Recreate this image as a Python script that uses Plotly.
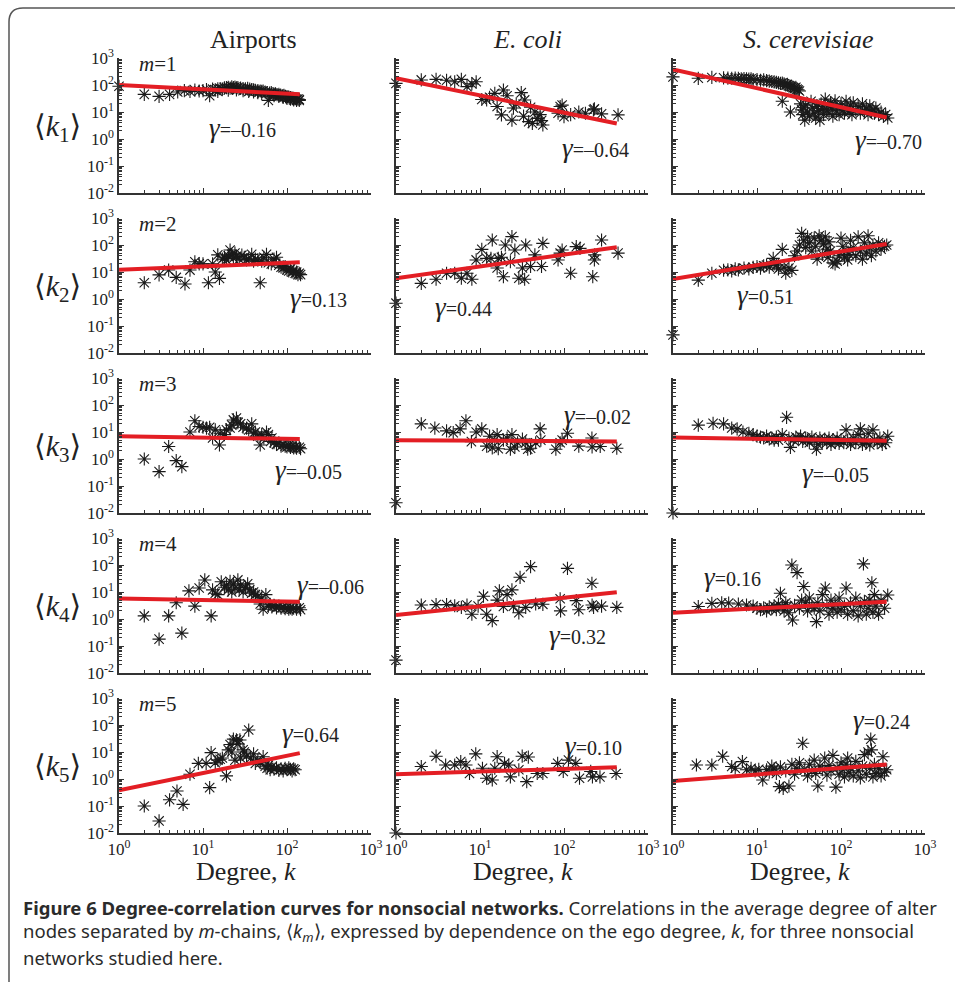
import plotly.graph_objects as go

W, H = 955, 982

# ---------------- data ----------------
networks = ["Airports", "E. coli", "S. cerevisiae"]
network_titles = ["Airports", "<i>E. coli</i>", "<i>S. cerevisiae</i>"]
chain_lengths = [1, 2, 3, 4, 5]

x_tick_vals = [1, 10, 100, 1000]
x_tick_text = ["10<sup>0</sup>", "10<sup>1</sup>", "10<sup>2</sup>", "10<sup>3</sup>"]
y_tick_vals = [0.01, 0.1, 1, 10, 100, 1000]
y_tick_text = ["10<sup>-2</sup>", "10<sup>-1</sup>", "10<sup>0</sup>", "10<sup>1</sup>",
               "10<sup>2</sup>", "10<sup>3</sup>"]

# Airports
air_m1_k = [1, 2, 3, 4, 5, 6, 7, 8, 9, 10, 11, 12, 13, 14, 15, 15, 16, 17, 18, 19, 20, 20, 21, 22, 23, 24,
            25, 25, 26, 28, 30, 30, 32, 34, 35, 36, 38, 40, 40, 42, 45, 45, 48, 50, 50, 52, 55, 58, 60, 62,
            65, 68, 70, 70, 73, 76, 80, 80, 84, 88, 90, 92, 96, 100, 100, 105, 110, 110, 115, 120, 120,
            125, 130, 130, 135, 140, 140]
air_m1_v = [90, 45, 38, 45, 55, 62, 58, 65, 60, 62, 68, 40, 70, 66, 72, 58, 74, 70, 78, 80, 82, 65, 76, 85,
            80, 83, 78, 66, 80, 76, 74, 62, 72, 75, 58, 70, 68, 66, 55, 64, 62, 52, 60, 58, 48, 60, 55, 52,
            27, 50, 52, 48, 46, 40, 47, 44, 45, 38, 42, 40, 35, 41, 38, 37, 32, 36, 34, 30, 33, 32, 28, 31,
            30, 27, 30, 29, 27]

air_m2_k = [2, 3, 3.9, 4.8, 6.1, 7, 8, 9, 10, 11.6, 13, 14, 15.7, 15, 17, 18, 19, 20, 21, 22, 23, 24, 25,
            27, 29, 31, 33, 35, 38, 40, 42, 45, 48, 50, 53, 57, 60, 65, 70, 75, 80, 85, 90, 95, 100, 105,
            110, 115, 120, 125, 130, 135, 140, 145]
air_m2_v = [4, 7.8, 11.8, 6.3, 3.6, 11.8, 24, 20, 20, 4, 20, 10, 5.8, 43, 30, 35, 28, 40, 65, 45, 32, 50,
            38, 30, 42, 35, 28, 30, 45, 25, 30, 28, 4, 25, 35, 45, 22, 20, 30, 35, 18, 15, 14, 16, 12, 11,
            13, 10, 11, 9, 10, 8, 9, 8]

air_m3_k = [2, 3, 3.9, 4.8, 5.6, 7, 8, 9, 10, 11, 12, 13, 14, 15.7, 16, 18, 19, 21, 22, 23, 25, 26, 28,
            30, 33, 35, 38, 40, 42, 45, 48, 50, 53, 57, 60, 64, 66, 70, 75, 80, 85, 90, 95, 100, 105, 110,
            115, 120, 125, 130, 140, 145]
air_m3_v = [1, 0.34, 2.9, 0.87, 0.52, 10, 26, 16, 15, 14, 15, 6, 12, 3.3, 9, 8, 12, 14, 18, 28, 33, 22,
            20, 15, 14, 12, 20, 9, 10, 7, 3.3, 8, 6, 10, 8, 4.5, 6, 4, 3.5, 4, 3, 3.5, 3, 2.8, 3.2, 2.7, 3,
            2.6, 2.8, 2.5, 2.7, 2.4]

air_m4_k = [2, 3, 3.9, 4.8, 5.6, 6.8, 8, 9, 10.5, 12.5, 13, 14, 15, 16.5, 18, 19, 20, 21, 22, 23, 24,
            26, 27, 28, 30, 32, 34, 36, 38, 40, 42, 45, 48, 50, 52, 56, 60, 63, 66, 70, 75, 80, 85, 90,
            95, 100, 105, 110, 115, 120, 130, 140, 145]
air_m4_v = [1.3, 0.18, 1.3, 4, 0.3, 11, 3, 14, 28, 1.3, 12, 9, 8, 24, 15, 18, 12, 25, 10, 20, 14, 28, 12,
            18, 10, 15, 20, 12, 9, 10, 8, 7, 3.6, 6, 2.3, 8, 3, 3.5, 2.8, 3.2, 2.6, 3, 2.5, 2.8, 2.4, 2.7,
            2.3, 2.6, 2.3, 2.5, 2.3, 2.6, 2.2]

air_m5_k = [2, 3, 4, 4.9, 5.8, 7, 8.8, 10.9, 12, 12.5, 14, 15, 16, 17, 19, 20, 21, 22, 23, 24, 25, 26,
            27.5, 28, 30, 31, 33, 35, 37, 40, 42, 45, 48, 52, 55, 58, 60, 63, 66, 70, 75, 80, 85, 90, 95,
            100, 105, 110, 115, 120, 125]
air_m5_v = [0.1, 0.028, 0.17, 0.36, 0.115, 1.5, 3.8, 3.8, 0.48, 9.5, 4, 5, 5.4, 6, 1.3, 12, 19, 10, 30,
            5, 28, 20, 28, 6, 12, 10, 7, 65, 6, 8.5, 3.8, 5, 4, 6.7, 3, 2.5, 3.2, 2.2, 2.8, 2.3, 2.6, 2.1,
            2.4, 2, 2.5, 2.2, 2.6, 2.3, 2, 2.4, 2.2]

# E. coli
eco_m1_k = [1, 2, 3, 4, 5, 6, 7, 8, 9, 10.5, 12, 13, 15, 16, 18, 19, 21, 24, 25, 27, 31, 33, 34, 38, 40,
            42, 45, 48, 52, 54, 56, 85, 90, 95, 100, 120, 150, 180, 224, 230, 280, 440]
eco_m1_v = [115, 154, 162, 150, 132, 162, 87, 110, 132, 29, 28, 35, 49, 16, 7.8, 65, 40, 5, 14, 20, 52, 7,
            28, 4.4, 15, 3.8, 10, 5.8, 8, 4.8, 3.3, 9, 16, 18, 6.7, 8, 10, 9, 12, 13, 8.5, 7.8]

eco_m2_k = [1, 2, 3, 4, 5, 6, 7, 8, 9, 10.5, 12, 13.5, 14, 16, 16.5, 18, 19, 20, 23, 24, 26, 29, 32, 34,
            35, 40, 45, 54, 56, 85, 90, 95, 120, 140, 155, 220, 230, 232, 280, 440]
eco_m2_v = [0.7, 3.8, 5.4, 9, 9, 5.9, 9, 5.4, 28, 69, 32, 32, 153, 14, 32, 35, 6.7, 100, 24, 204, 65, 5.9,
            14, 5.4, 100, 16, 43, 16, 115, 28, 50, 65, 9, 87, 75, 6.7, 28, 43, 153, 50]

eco_m3_k = [1, 2, 2.9, 4, 4.8, 5.8, 6.8, 7.9, 9, 10.5, 12, 13, 14, 15, 16, 16.5, 19, 21, 23, 24, 26, 28,
            32, 35, 37, 40, 46, 52, 53, 80, 90, 95, 110, 150, 215, 216, 270, 425]
eco_m3_v = [0.024, 20, 14, 11, 9.5, 13, 26, 4.4, 10, 13, 3, 7, 2.6, 5, 8, 2.4, 5, 6, 2.3, 8, 2.8, 4, 5.5,
            4, 2.3, 2.5, 4, 13, 5, 2.3, 4, 5, 9, 3, 6, 2.8, 2.9, 2.5]

eco_m4_k = [1, 2, 3, 4, 5, 6, 7, 8, 9.5, 11, 12, 14, 16, 17, 19, 21, 24, 25, 29, 30, 35, 40, 46, 56, 90,
            91, 110, 140, 150, 215, 216, 225, 280, 425]
eco_m4_v = [0.03, 3.3, 3.4, 3.4, 3.1, 2.7, 3.3, 1.5, 3, 7, 1.5, 0.87, 5, 11, 2.9, 8, 12, 3, 1.7, 35, 2.7,
            87, 3.6, 3.5, 5.6, 2, 75, 4.8, 2.2, 21, 3.3, 2.7, 3, 2.7]

eco_m5_k = [1, 2, 3, 3.9, 5, 5.9, 6.8, 7.5, 8.9, 10.7, 12, 14, 15, 16, 19.6, 22, 23, 29, 31.8, 37.6, 36,
            48, 56, 84, 98, 113, 138, 153, 208, 218, 268, 417]
eco_m5_v = [0.01, 2.9, 7, 3.3, 3.3, 4.4, 3.3, 1.6, 8.5, 2.5, 1.07, 0.92, 2.5, 6.7, 3.8, 3.3, 1.2, 2.2, 7,
            6.5, 0.8, 1.6, 1.6, 3.8, 1.9, 5, 3.8, 1.07, 1.9, 1.2, 1.2, 1.6]

# S. cerevisiae
sce_m1_k = [1, 2, 2.9, 4, 4.5, 5, 5.5, 6, 6.5, 7, 7.5, 8, 8.5, 9, 10, 11, 12, 13, 14, 15, 16, 17, 18, 19,
            20, 21, 22, 23, 24, 25, 26, 27, 28, 29, 30, 31, 32, 20, 25,
            33, 34, 35, 36, 37, 38, 40, 42, 44, 46, 48, 50, 52, 54, 56, 58, 60, 62, 65, 68, 70, 72, 75,
            78, 80, 85, 88, 90, 95, 100, 105, 110, 115, 120, 125, 130, 135, 140, 150, 160, 170, 180, 190,
            200, 210, 220, 230, 240, 250, 260, 280, 300, 320, 340, 360]
sce_m1_v = [200, 177, 190, 185, 180, 178, 182, 175, 170, 172, 168, 165, 170, 160, 158, 150, 155, 145, 140,
            135, 130, 125, 120, 115, 118, 110, 100, 105, 95, 90, 85, 80, 75, 82, 70, 65, 60, 25, 10,
            20, 12, 8, 15, 5, 18, 10, 7, 25, 14, 9, 6, 16, 11, 5, 20, 13, 8, 30, 12, 17, 9, 22, 14, 7, 26,
            11, 15, 8, 20, 12, 9, 25, 14, 10, 18, 8, 22, 12, 16, 9, 20, 11, 14, 8, 17, 10, 12, 9, 14, 8,
            10, 7, 8, 6]

sce_m2_k = [1, 2, 2.9, 4, 4.5, 5, 5.5, 6, 7, 8, 9, 10, 11, 12, 13, 14, 15.6, 16, 17, 18, 20, 21, 22, 24,
            26, 28, 30, 32, 34, 36, 38, 40, 42, 45, 48, 50, 52, 55, 58, 60, 62, 65, 68, 70, 72, 75, 80,
            85, 90, 95, 100, 105, 110, 115, 120, 125, 130, 140, 150, 160, 170, 180, 190, 200, 210, 220,
            230, 240, 260, 280, 300, 330, 350]
sce_m2_v = [0.047, 5, 9, 11.6, 12, 11, 13, 12, 14, 13, 15, 16, 14, 17, 18, 15, 32, 20, 18, 13, 69, 15, 9,
            14, 11.5, 40, 60, 100, 270, 150, 80, 200, 120, 60, 180, 90, 30, 220, 150, 45, 110, 200, 70, 35,
            130, 60, 22, 20, 25, 40, 180, 90, 35, 60, 28, 45, 150, 80, 40, 200, 60, 30, 120, 50, 220, 80,
            40, 100, 60, 120, 70, 90, 100]

sce_m3_k = [1, 2, 3, 4, 5, 5.8, 6.8, 8, 9, 10, 11, 12, 13, 14, 15, 16, 17, 18, 20, 22.5, 24, 25, 27, 29,
            31, 33, 35, 38, 40, 42, 45, 48, 51, 53, 56, 60, 64, 68, 72, 76, 80, 85, 90, 95, 100, 108, 115,
            120, 130, 140, 150, 160, 170, 180, 190, 200, 210, 220, 240, 250, 270, 290, 310, 340, 360]
sce_m3_v = [0.01, 18, 21, 20, 14, 13, 10, 9, 8, 7, 6.5, 6, 7, 5.5, 6, 5, 6.5, 5, 8, 35, 6, 2.7, 5, 6.5,
            5.5, 7, 4.5, 6, 5, 4, 6.5, 5, 2.3, 3.5, 6, 4.5, 5.5, 4, 6, 3.5, 5, 4.2, 6, 3.8, 5, 4, 12, 5,
            3.5, 6, 4, 8, 13, 3.5, 5, 4, 9, 3.3, 12, 5, 4, 6, 3.5, 4, 7]

sce_m4_k = [2, 2.9, 3.8, 4.6, 6, 7.5, 9, 10, 11, 12, 13, 14, 15, 16, 17, 18, 19, 20, 21, 22, 23, 24, 26,
            26.5, 28, 30, 32, 34, 36, 38, 40, 42, 45, 48, 51, 53, 56, 60, 65, 68, 72, 76, 80, 85, 90, 95,
            100, 110, 115, 120, 130, 140, 150, 160, 170, 185, 190, 200, 210, 220, 233, 240, 250, 260, 280,
            300, 330, 360]
sce_m4_v = [2.9, 3.8, 4, 3.9, 3.6, 3.3, 3, 2.5, 2.2, 2.6, 2, 2.8, 2.4, 3, 2.2, 3.5, 9, 2.8, 2, 4, 3, 1.7,
            100, 0.92, 3.2, 52, 2.5, 5, 16, 4, 2, 6, 3, 2.5, 0.8, 4, 2, 8, 14, 3, 1.5, 5, 2.5, 3.5, 1.8,
            6, 2.2, 3, 14, 1.5, 4, 2, 6, 1.3, 3, 110, 4.5, 1.5, 2.5, 5, 22, 1.8, 8, 3, 1.5, 5, 2.5, 7.7]

sce_m5_k = [1.9, 2.9, 3.9, 5, 5.5, 6.7, 7.5, 8.5, 9.5, 10.5, 11.7, 13, 14, 15, 16, 17, 18.5, 19, 20.5,
            22, 24, 26, 28, 30, 32, 35, 37, 40, 42, 45, 48, 50, 53, 56, 60, 64, 68, 72, 76, 80, 87, 90,
            95, 100, 105, 110, 115, 120, 125, 130, 140, 150, 160, 170, 180, 190, 200, 210, 220, 226, 230,
            240, 250, 260, 280, 300, 316, 330, 350]
sce_m5_v = [3.3, 3.3, 7, 2.9, 2.5, 4.4, 2.2, 2.5, 2.0, 2.3, 0.92, 2.2, 1.8, 3, 2.4, 1.6, 0.52, 2.8, 0.45,
            2.0, 0.55, 3.5, 1.5, 2.5, 4, 21, 2.2, 1.3, 3.5, 2, 5, 1.6, 0.55, 3, 2.2, 6, 1.4, 3.2, 2, 7.5,
            0.5, 2.6, 1.5, 4, 2.2, 1.2, 3.5, 6, 1.7, 2.5, 1.3, 4.5, 2, 1.1, 3, 8, 1.5, 10, 2.5, 30, 12,
            1.2, 3.5, 1.6, 2.4, 1.3, 6.7, 1.8, 2.2]

series_k = [
    [air_m1_k, air_m2_k, air_m3_k, air_m4_k, air_m5_k],
    [eco_m1_k, eco_m2_k, eco_m3_k, eco_m4_k, eco_m5_k],
    [sce_m1_k, sce_m2_k, sce_m3_k, sce_m4_k, sce_m5_k],
]
series_v = [
    [air_m1_v, air_m2_v, air_m3_v, air_m4_v, air_m5_v],
    [eco_m1_v, eco_m2_v, eco_m3_v, eco_m4_v, eco_m5_v],
    [sce_m1_v, sce_m2_v, sce_m3_v, sce_m4_v, sce_m5_v],
]

# power-law fits <k_m> = A * k^gamma
fit_gamma = [
    [-0.16, 0.13, -0.05, -0.06, 0.64],
    [-0.64, 0.44, -0.02, 0.32, 0.10],
    [-0.70, 0.51, -0.05, 0.16, 0.24],
]
fit_amp = [
    [100, 12, 7, 5.8, 0.38],
    [180, 5.8, 5, 1.4, 1.5],
    [380, 5.5, 6.3, 1.7, 0.85],
]
fit_kmax = [142, 425, 350]

# ---------------- layout geometry (pixels) ----------------
col_left = [119, 396, 673]
panel_w = 252
row_top0 = 58
row_pitch = 160
panel_h = 135

gamma_pos = [
    [(207, 128), (288, 298), (273, 470), (295, 585), (280, 733)],
    [(560, 148), (433, 307), (562, 415), (547, 635), (563, 746)],
    [(853, 140), (735, 295), (800, 473), (702, 577), (851, 720)],
]

SERIF = "Liberation Serif, Times New Roman, DejaVu Serif, serif"
SANS = "Noto Sans, Open Sans, sans-serif"


def px(x):
    return x / W


def py(y):
    return 1 - y / H


def note(x, y, text, size, family=SERIF, xanchor="center", yanchor="middle", color="#222"):
    fig.add_annotation(x=px(x), y=py(y), xref="paper", yref="paper",
                       xanchor=xanchor, yanchor=yanchor, showarrow=False, text=text,
                       font=dict(family=family, size=size, color=color))


fig = go.Figure()
minor_x = [m * 10 ** e for e in range(0, 3) for m in range(2, 10)]
minor_y = [m * 10.0 ** e for e in range(-2, 3) for m in range(2, 10)]

for c in range(3):
    for r in range(5):
        n = r * 3 + c + 1
        xa = "x" if n == 1 else f"x{n}"
        ya = "y" if n == 1 else f"y{n}"
        k = series_k[c][r]
        v = series_v[c][r]
        fig.add_trace(go.Scatter(
            x=k, y=v, mode="markers", xaxis=xa, yaxis=ya, cliponaxis=False,
            marker=dict(symbol="asterisk-open", size=11, color="#1a1a1a",
                        line=dict(color="#1a1a1a", width=1.1)),
            showlegend=False, hoverinfo="skip"))
        g = fit_gamma[c][r]
        A = fit_amp[c][r]
        kx = [1, fit_kmax[c]]
        fig.add_trace(go.Scatter(
            x=kx, y=[A * kk ** g for kk in kx], mode="lines", xaxis=xa, yaxis=ya,
            line=dict(color="#e31e24", width=4), showlegend=False, hoverinfo="skip"))

        top = row_top0 + r * row_pitch
        axis_common = dict(
            type="log", showline=True, linecolor="#333", linewidth=1.5, mirror=False,
            ticks="inside", ticklen=5, tickwidth=1, tickcolor="#333", showgrid=False,
            zeroline=False, tickmode="array",
            tickfont=dict(family=SERIF, size=17, color="#222"),
        )
        fig.layout[f"xaxis{'' if n == 1 else n}"] = dict(
            axis_common, domain=[px(col_left[c]), px(col_left[c] + panel_w)],
            anchor=ya, range=[0, 3], tickvals=x_tick_vals, ticktext=x_tick_text,
            showticklabels=(r == 4),
            minor=dict(tickmode="array", tickvals=minor_x, ticks="inside", ticklen=3,
                       tickcolor="#333", showgrid=False),
        )
        fig.layout[f"yaxis{'' if n == 1 else n}"] = dict(
            axis_common, domain=[py(top + panel_h), py(top)],
            anchor=xa, range=[-2, 3], tickvals=y_tick_vals, ticktext=y_tick_text,
            showticklabels=(c == 0),
            minor=dict(tickmode="array", tickvals=minor_y, ticks="inside", ticklen=3,
                       tickcolor="#333", showgrid=False),
        )

        # gamma annotation
        gx, gy = gamma_pos[c][r]
        gtxt = f"{g:.2f}".replace("-", "\u2013")
        note(gx, gy, f"<span style='font-size:27px'><i>\u03b3</i></span>={gtxt}", 20,
             xanchor="left")

# column titles and x titles
title_x = [253, 527, 808]
for c in range(3):
    note(title_x[c], 40, network_titles[c], 26)
    note(col_left[c] + 127, 871, "Degree, <i>k</i>", 26)

# row labels
for r, m in enumerate(chain_lengths):
    top = row_top0 + r * row_pitch
    note(137, top + 6, f"<i>m</i>={m}", 21, xanchor="left")
    note(57, top + 70, f"\u27e8<i>k</i><sub>{m}</sub>\u27e9", 30)

# caption
caption_lines = [
    "<b>Figure 6 Degree-correlation curves for nonsocial networks.</b> Correlations in the average degree of alter",
    "nodes separated by <i>m</i>-chains, \u27e8<i>k<sub>m</sub></i>\u27e9, expressed by dependence on the ego degree, <i>k</i>, for three nonsocial",
    "networks studied here.",
]
for i, line in enumerate(caption_lines):
    note(21, 907 + 25 * i, line, 18.5, family=SANS, xanchor="left", color="#2b2b2b")


# rounded frame
def P(x, y):
    return f"{px(x):.5f},{py(y):.5f}"


frame = f"M {P(9, 990)} L {P(9, 22)} Q {P(9, 8)} {P(23, 8)} L {P(960, 8)}"
fig.add_shape(type="path", path=frame, xref="paper", yref="paper",
              line=dict(color="#555", width=1.5))

fig.update_layout(
    width=W, height=H, margin=dict(l=0, r=0, t=0, b=0, autoexpand=False),
    paper_bgcolor="white", plot_bgcolor="white", showlegend=False,
)

fig.write_html("out.html", config={"displayModeBar": False},
               post_script="document.body.style.margin='0';")
